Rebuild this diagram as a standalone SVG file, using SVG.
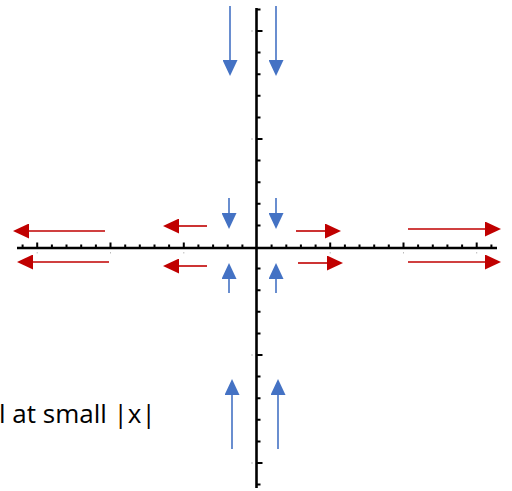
<svg xmlns="http://www.w3.org/2000/svg" width="512" height="491" viewBox="0 0 512 491">
<style>
.axis{stroke:#000;stroke-width:2.6;fill:none}
.tick{stroke:#000;stroke-width:2;fill:none}
.lbl{stroke:#bbb;stroke-width:1;fill:none}
.blue{stroke:#4472C4;stroke-width:1.6;fill:none}
.red{stroke:#C00000;stroke-width:1.6;fill:none}
.txt{font-family:"Open Sans",sans-serif;font-size:26px;fill:#000;white-space:pre}
</style>
<defs>
<marker id="bh" markerUnits="userSpaceOnUse" markerWidth="16" markerHeight="15" refX="0" refY="7.5" orient="auto"><path d="M0,0 L16,7.5 L0,15 Z" fill="#4472C4"/></marker>
<marker id="rh" markerUnits="userSpaceOnUse" markerWidth="16" markerHeight="15" refX="0" refY="7.5" orient="auto"><path d="M0,0 L16,7.5 L0,15 Z" fill="#C00000"/></marker>
</defs>
<rect width="512" height="491" fill="#fff"/>
<g id="axes">
<line class="axis" x1="17" y1="248" x2="497" y2="248"/>
<line class="axis" x1="256.5" y1="8" x2="256.5" y2="488"/>
<path class="tick" d="M22.6,248v-3.5 M37.2,248v-5.5 M51.9,248v-3.5 M66.5,248v-3.5 M81.2,248v-3.5 M95.9,248v-3.5 M110.5,248v-5.5 M125.2,248v-3.5 M139.8,248v-3.5 M154.5,248v-3.5 M169.1,248v-3.5 M183.8,248v-5.5 M198.4,248v-3.5 M213.1,248v-3.5 M227.7,248v-3.5 M242.4,248v-3.5 M271.6,248v-3.5 M286.3,248v-3.5 M300.9,248v-3.5 M315.6,248v-3.5 M330.2,248v-5.5 M344.9,248v-3.5 M359.5,248v-3.5 M374.2,248v-3.5 M388.8,248v-3.5 M403.5,248v-5.5 M418.1,248v-3.5 M432.8,248v-3.5 M447.4,248v-3.5 M462.1,248v-3.5 M476.7,248v-5.5 M491.4,248v-3.5"/>
<path class="tick" d="M256.5,9.4h4 M256.5,31h6 M256.5,52.6h4 M256.5,74.2h4 M256.5,95.8h4 M256.5,117.4h4 M256.5,139h6 M256.5,160.6h4 M256.5,182.2h4 M256.5,203.8h4 M256.5,225.4h4 M256.5,268.6h4 M256.5,290.2h4 M256.5,311.8h4 M256.5,333.4h4 M256.5,355h6 M256.5,376.6h4 M256.5,398.2h4 M256.5,419.8h4 M256.5,441.4h4 M256.5,463h6 M256.5,484.6h4"/>
<path class="lbl" d="M37.2,252v1.5 M110.5,252v1.5 M183.8,252v1.5 M330.2,252v1.5 M403.5,252v1.5 M476.7,252v1.5 M251,31h2 M251,139h2 M251,355h2 M251,463h2"/>
</g>
<g id="connectors">
<line class="blue" x1="230" y1="6" x2="230" y2="60" marker-end="url(#bh)"/>
<line class="blue" x1="276" y1="6" x2="276" y2="60" marker-end="url(#bh)"/>
<line class="blue" x1="229" y1="198" x2="229" y2="213" marker-end="url(#bh)"/>
<line class="blue" x1="276" y1="198" x2="276" y2="213" marker-end="url(#bh)"/>
<line class="blue" x1="229" y1="293" x2="229" y2="279" marker-end="url(#bh)"/>
<line class="blue" x1="276" y1="293" x2="276" y2="279" marker-end="url(#bh)"/>
<line class="blue" x1="232" y1="449" x2="232" y2="395" marker-end="url(#bh)"/>
<line class="blue" x1="278" y1="449" x2="278" y2="395" marker-end="url(#bh)"/>
<line class="red" x1="105" y1="231" x2="29" y2="231" marker-end="url(#rh)"/>
<line class="red" x1="109" y1="262" x2="33" y2="262" marker-end="url(#rh)"/>
<line class="red" x1="207" y1="226" x2="179" y2="226" marker-end="url(#rh)"/>
<line class="red" x1="207" y1="266" x2="179" y2="266" marker-end="url(#rh)"/>
<line class="red" x1="296" y1="231" x2="325" y2="231" marker-end="url(#rh)"/>
<line class="red" x1="298" y1="263" x2="327" y2="263" marker-end="url(#rh)"/>
<line class="red" x1="408" y1="229" x2="485" y2="229" marker-end="url(#rh)"/>
<line class="red" x1="408" y1="262" x2="485" y2="262" marker-end="url(#rh)"/>
</g>
<g id="label">
<text class="txt" x="-1" y="423">l at small |x|</text>
</g>
</svg>
